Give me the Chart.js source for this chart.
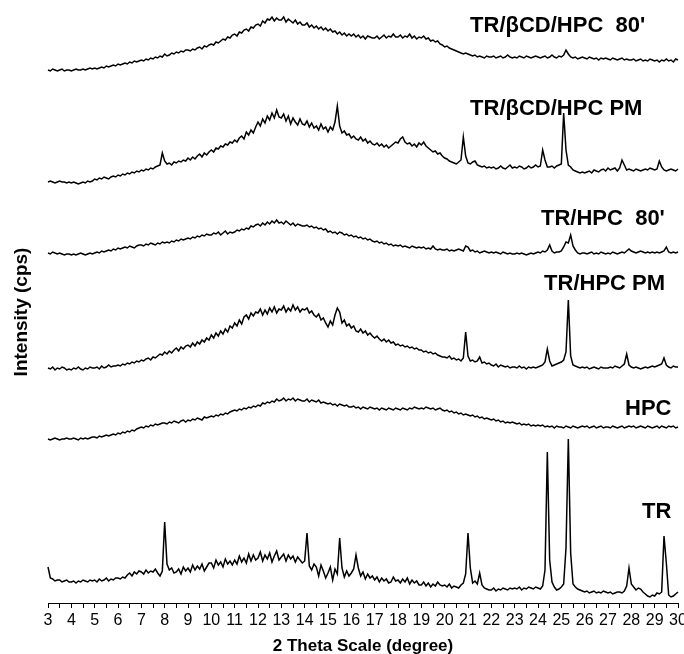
<!DOCTYPE html>
<html>
<head>
<meta charset="utf-8">
<script src="https://cdn.jsdelivr.net/npm/chart.js@4.4.1/dist/chart.umd.min.js"></script>
<style>
  html, body { margin: 0; padding: 0; background: #fff; }
  #wrap { width: 684px; height: 654px; }
</style>
</head>
<body>
<div id="wrap"><canvas id="xrd"></canvas></div>
<script>
// 2-theta sampling: 3.0 .. 30.0 deg, one value per 0.1 deg (271 per pattern)
const thetaStart = 3;
const thetaStep = 0.1;
const tickLabels = [3, 4, 5, 6, 7, 8, 9, 10, 11, 12, 13, 14, 15, 16, 17, 18, 19, 20, 21, 22, 23, 24, 25, 26, 27, 28, 29, 30];

const seriesNames = ["TR/\u03B2CD/HPC  80'", 'TR/\u03B2CD/HPC PM', "TR/HPC  80'", 'TR/HPC PM', 'HPC', 'TR'];

// intensities above each pattern's own baseline, rows = 1 degree
const trCdHpc80 = [
  2,1,3,2,1,2,3,1,2,2,         // 3
  1,2,3,2,2,3,2,3,4,3,         // 4
  4,3,4,5,4,6,5,6,7,6,         // 5
  8,7,8,9,8,10,9,11,10,11,     // 6
  12,11,13,12,14,13,15,14,16,15,
  18,16,17,19,18,20,19,21,20,22,
  22,21,23,22,24,25,23,26,25,27,
  28,27,30,29,31,33,32,35,34,37, // 10
  38,36,40,39,42,43,41,45,44,47,
  48,46,51,49,53,52,55,51,54,52,
  52,55,50,53,51,49,52,48,50,47,
  47,49,45,47,44,46,43,45,42,44,
  41,43,40,41,38,40,37,39,36,38, // 15
  36,38,35,37,34,36,33,36,35,34,
  34,36,33,35,37,34,36,35,38,35,
  35,37,34,36,35,38,34,36,33,35,
  34,36,33,34,31,32,30,31,28,27,
  25,26,24,23,22,21,20,19,18,19, // 20
  18,17,16,17,15,16,15,14,16,15,
  15,16,14,15,16,14,15,17,15,14,
  15,14,16,15,14,16,15,14,15,16,
  15,14,15,16,14,15,17,15,14,16,
  15,17,22,18,15,14,15,13,14,15, // 25
  14,13,15,14,13,14,12,14,13,14,
  13,12,14,13,12,13,14,12,13,12,
  12,13,11,12,13,11,12,11,13,12,
  11,12,10,12,11,13,11,12,10,13,
  12
];

const trCdHpcPM = [
  2,3,2,1,2,3,2,2,1,2,         // 3
  1,2,1,0,1,2,1,3,2,3,
  5,4,6,5,7,6,5,7,8,7,
  9,8,10,9,11,10,12,11,13,12,
  14,13,15,14,16,15,17,18,19,31,
  23,20,21,19,22,21,23,22,24,23,
  26,24,27,25,28,30,27,31,29,32,
  34,32,36,35,38,37,40,39,42,41, // 10
  44,42,46,48,45,52,49,54,51,57,
  62,58,65,61,68,64,71,66,74,67,
  66,70,63,68,60,66,62,59,65,60,
  59,63,57,61,56,58,54,60,55,57,
  52,57,54,62,78,58,51,53,49,50, // 15
  46,48,45,44,47,43,45,41,43,40,
  39,41,38,40,37,39,36,38,40,42,
  41,45,47,42,40,41,38,40,37,41,
  39,42,38,36,34,32,33,30,31,28,
  26,25,23,22,21,20,22,24,47,28, // 20
  21,20,22,23,19,18,17,18,16,17,
  16,17,15,16,18,16,15,17,19,16,
  17,16,18,17,15,16,18,16,17,19,
  17,18,34,24,17,17,18,16,18,19,
  20,71,34,19,17,14,13,12,11,12, // 25
  11,12,13,11,14,13,12,14,15,13,
  16,14,15,16,13,16,24,19,14,15,
  14,13,15,14,13,14,15,14,16,15,
  14,15,23,17,14,13,14,15,14,13,
  15
];

const trHpc80 = [
  3,2,4,3,2,3,2,1,2,2,         // 3
  1,2,1,2,3,2,1,2,3,2,
  3,4,3,5,4,5,6,5,7,6,
  8,7,8,9,8,10,9,8,10,11,
  11,10,12,11,13,12,11,13,12,14,
  13,14,13,15,14,16,15,17,16,17,
  18,17,19,18,20,19,21,20,22,21,
  21,23,22,24,21,23,25,22,24,23, // 10
  24,26,25,27,26,28,27,30,29,31,
  32,30,33,31,34,32,35,33,36,33,
  34,32,35,33,31,33,30,32,31,30,
  30,31,29,30,28,29,27,28,26,27,
  24,25,23,24,22,24,23,21,22,20, // 15
  21,19,20,18,19,17,18,16,17,15,
  14,15,13,14,12,13,11,12,10,11,
  10,11,9,10,9,8,10,9,8,9,
  8,9,7,8,7,10,7,6,7,6,
  6,7,5,6,5,6,7,6,5,10,        // 20
  9,5,6,4,5,3,4,5,4,3,
  4,3,4,3,2,4,3,2,3,2,
  2,3,2,3,2,1,2,3,2,3,
  4,3,5,4,6,11,5,3,4,4,
  5,9,14,13,21,10,6,3,2,3,     // 25
  3,2,3,4,2,3,2,4,3,2,
  3,2,4,3,2,3,4,3,5,7,
  5,4,3,4,5,4,3,4,3,4,
  3,4,3,4,5,9,4,3,4,3,
  4
];

const trHpcPM = [
  2,1,3,0,2,1,3,2,0,1,         // 3
  0,2,1,3,1,0,2,1,3,2,
  2,3,1,4,2,3,5,3,4,4,
  5,4,6,5,7,6,8,7,9,8,
  10,9,11,12,10,13,12,14,16,15,
  18,16,19,17,20,22,19,23,21,24,
  25,23,27,24,28,26,30,28,32,30,
  35,32,37,34,39,36,41,38,44,42, // 10
  47,44,50,46,53,55,51,57,54,58,
  57,61,55,60,56,62,58,63,57,61,
  60,64,58,62,59,65,60,63,58,61,
  60,62,57,59,55,53,56,50,52,47,
  43,49,45,55,62,58,47,50,44,46, // 15
  42,44,39,38,41,37,39,35,37,34,
  32,34,31,29,31,28,30,27,28,25,
  26,24,25,23,24,22,23,21,22,20,
  20,18,19,17,18,16,17,15,14,13,
  13,12,14,11,12,10,11,9,12,38, // 20
  14,9,10,8,9,13,7,8,6,7,
  5,4,6,3,5,4,3,4,2,3,
  3,2,4,2,3,1,3,2,3,2,
  3,4,5,8,21,9,4,5,6,7,
  8,10,18,70,14,5,4,3,2,3,     // 25
  2,3,1,2,3,2,1,3,2,2,
  2,3,2,4,3,2,4,6,16,5,
  3,2,3,2,1,2,3,2,3,4,
  3,4,5,6,12,5,3,2,4,3,
  3
];

const hpc = [
  2,1,2,3,2,1,2,2,3,2,         // 3
  2,3,2,1,3,2,3,2,3,4,
  4,3,5,4,5,6,5,6,7,6,
  8,7,9,8,10,9,11,10,12,13,
  14,13,15,14,16,15,17,16,17,18,
  18,17,19,18,20,19,18,20,21,19,
  21,20,22,21,23,22,21,24,23,24,
  25,24,26,25,27,26,28,27,29,30, // 10
  31,30,32,31,33,32,34,33,35,34,
  36,35,38,37,39,38,40,39,42,40,
  41,43,40,42,41,43,40,42,41,40,
  40,42,39,41,40,39,41,38,39,38,
  37,38,36,37,35,37,36,35,36,34, // 15
  34,35,33,34,32,34,33,32,34,33,
  32,33,31,33,32,31,33,32,31,33,
  32,31,33,32,31,33,32,34,33,32,
  33,32,34,33,32,33,31,32,33,31,
  30,31,29,30,28,29,27,28,26,27, // 20
  26,25,26,24,25,23,24,22,23,22,
  21,22,20,21,19,20,18,19,18,19,
  18,17,18,16,17,16,17,15,16,15,
  16,15,16,14,15,14,15,13,15,14,
  14,13,15,14,13,15,14,13,14,15, // 25
  14,15,13,14,15,13,14,15,13,14,
  14,13,15,14,13,14,15,13,14,15,
  14,15,13,14,15,14,13,15,14,13,
  14,15,13,15,14,13,15,14,15,13,
  14
];

const tr = [
  31,20,19,17,18,18,16,17,18,16, // 3
  16,17,15,17,16,18,17,16,18,17,
  18,16,19,17,18,20,17,19,18,20,
  20,19,21,20,23,25,22,26,24,27,
  26,24,28,25,27,26,29,25,22,27,
  76,34,28,30,25,26,29,24,31,27, // 8
  30,26,33,28,32,29,34,27,31,35,
  35,30,38,33,36,31,39,34,37,33, // 10
  38,34,42,36,40,35,44,37,43,38,
  40,46,37,43,39,45,36,42,47,38,
  41,44,37,43,39,42,36,41,38,35,
  37,65,32,28,34,31,22,33,27,20,
  25,31,18,29,24,60,30,21,27,22, // 15
  25,29,43,30,22,26,19,24,20,22,
  18,21,16,20,17,19,15,16,21,17,
  18,15,19,16,20,14,18,15,17,13,
  13,16,12,15,11,14,12,16,13,12,
  13,11,14,10,12,11,10,13,15,24, // 20
  65,30,15,17,14,25,13,10,9,8,
  8,10,7,9,8,10,9,8,10,9,
  10,9,11,8,10,9,11,10,9,11,
  10,9,12,28,146,38,16,11,8,9,
  11,14,50,159,45,14,11,9,8,7, // 25
  6,7,5,6,7,5,6,5,7,6,
  5,6,4,5,6,6,5,7,12,30,
  14,11,8,10,9,6,4,2,1,3,
  2,5,4,6,62,35,3,1,2,4,
  6
];

const patterns = [trCdHpc80, trCdHpcPM, trHpc80, trHpcPM, hpc, tr];

// vertical stacking of the patterns (display offset, same units as y)
const stackOffsets = [531, 419, 347, 233, 162, 5];
// where each pattern name is written: [2theta, y]
const nameAnchors = [[21.09, 571], [21.09, 488], [24.13, 378], [24.26, 313], [27.73, 188], [28.46, 85]];

const datasets = patterns.map((values, i) => ({
    label: seriesNames[i],
    data: values.map((v, j) => ({ x: thetaStart + j * thetaStep, y: v + stackOffsets[i] })),
    borderColor: '#000',
    borderWidth: 1.5,
    pointRadius: 0,
    tension: 0,
    clip: false,
}));

const patternNames = {
    id: 'patternNames',
    afterDatasetsDraw(chart) {
        const { ctx, scales } = chart;
        ctx.save();
        ctx.fillStyle = '#000';
        ctx.font = "bold 22px 'Liberation Sans', Arial, sans-serif";
        ctx.textAlign = 'left';
        ctx.textBaseline = 'alphabetic';
        seriesNames.forEach((name, i) => {
            const [tx, ty] = nameAnchors[i];
            ctx.fillText(name, scales.x.getPixelForValue(tx), scales.y.getPixelForValue(ty));
        });
        ctx.restore();
    }
};

new Chart(document.getElementById('xrd'), {
    type: 'line',
    data: { datasets },
    plugins: [patternNames],
    options: {
        responsive: true,
        maintainAspectRatio: false,
        animation: false,
        events: [],
        layout: { padding: { top: 21, right: 6, left: 0, bottom: 0 } },
        plugins: {
            legend: { display: false },
            tooltip: { enabled: false },
        },
        scales: {
            x: {
                type: 'linear',
                min: 3,
                max: 30,
                border: { display: true, color: '#000', width: 1 },
                grid: { drawOnChartArea: false, drawTicks: true, tickLength: 5, color: '#000' },
                ticks: {
                    stepSize: 0.5,
                    autoSkip: false,
                    maxRotation: 0,
                    padding: 3,
                    color: '#000',
                    font: { family: "'Liberation Sans', Arial, sans-serif", size: 16 },
                    callback: (v) => (tickLabels.includes(v) ? String(v) : ''),
                },
                title: {
                    display: true,
                    text: '2 Theta Scale (degree)',
                    color: '#000',
                    font: { family: "'Liberation Sans', Arial, sans-serif", size: 17, weight: 'bold' },
                    padding: { top: 0, bottom: -3 },
                },
                afterFit(scale) {
                    scale.height = 51;
                    scale.paddingLeft = 0;
                    scale.paddingRight = 0;
                },
            },
            y: {
                min: 0,
                max: 582,
                border: { display: false },
                grid: { display: false },
                ticks: { display: false },
                title: {
                    display: true,
                    text: 'Intensity (cps)',
                    color: '#000',
                    font: { family: "'Liberation Sans', Arial, sans-serif", size: 19, weight: 'bold' },
                    padding: { top: 10, bottom: 0 },
                },
                afterFit(scale) {
                    scale.width = 48;
                },
            },
        },
    },
});
</script>
</body>
</html>
